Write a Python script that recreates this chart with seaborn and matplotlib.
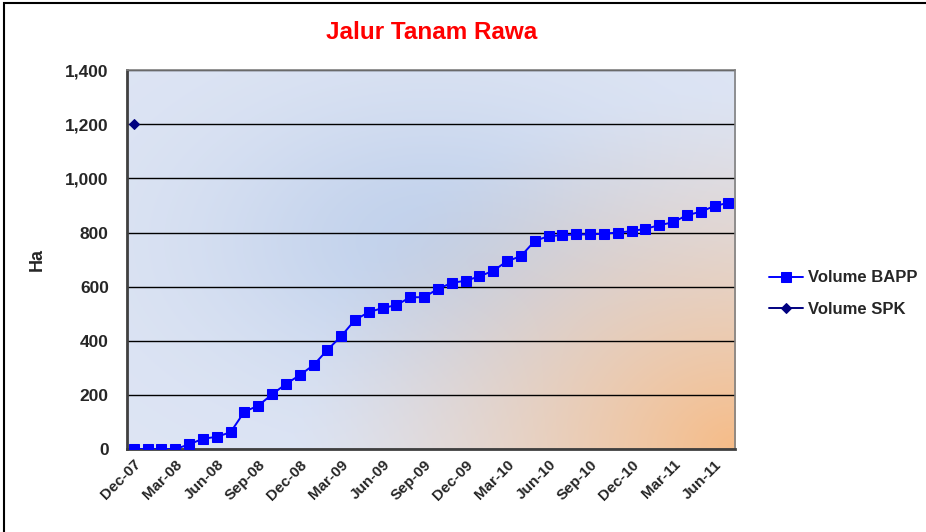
import numpy as np
import pandas as pd
import seaborn as sns
import matplotlib.pyplot as plt
from matplotlib.patches import Rectangle

months = ["Dec-07", "Jan-08", "Feb-08", "Mar-08", "Apr-08", "May-08", "Jun-08", "Jul-08",
          "Aug-08", "Sep-08", "Oct-08", "Nov-08", "Dec-08", "Jan-09", "Feb-09", "Mar-09",
          "Apr-09", "May-09", "Jun-09", "Jul-09", "Aug-09", "Sep-09", "Oct-09", "Nov-09",
          "Dec-09", "Jan-10", "Feb-10", "Mar-10", "Apr-10", "May-10", "Jun-10", "Jul-10",
          "Aug-10", "Sep-10", "Oct-10", "Nov-10", "Dec-10", "Jan-11", "Feb-11", "Mar-11",
          "Apr-11", "May-11", "Jun-11", "Jul-11"]
bapp = [0, 0, 0, 0, 17, 38, 45, 62, 138, 160, 202, 240, 273, 310, 366, 417,
        477, 506, 521, 532, 561, 561, 592, 614, 622, 638, 659, 694, 713, 769,
        787, 790, 793, 793, 796, 800, 805, 814, 827, 838, 864, 877, 898, 910]
spk_month = ["Dec-07"]
spk = [1200]

df = pd.DataFrame({"month": months, "idx": range(len(months)), "bapp": bapp})
df_spk = pd.DataFrame({"idx": [months.index(m) for m in spk_month], "spk": spk})

sns.set_style("white")
plt.rcParams["font.family"] = ["Liberation Sans", "DejaVu Sans"]

fig = plt.figure(figsize=(9.26, 5.32), dpi=100)
ax = fig.add_axes([0.137, 0.156, 0.657, 0.712])

# gradient background of the plot area
gx, gy = np.meshgrid(np.linspace(0, 1, 300), np.linspace(0, 1, 200))
light = np.array([222, 229, 244]) / 255
blue = np.array([194, 210, 236]) / 255
orange = np.array([246, 188, 136]) / 255
g = np.exp(-((gx - 0.5) ** 2 + (gy - 0.45) ** 2) / 0.14)
img = light + (blue - light) * g[..., None]
d = np.sqrt(((gx - 1.0) * 1.3) ** 2 + (gy - 1.0) ** 2)
w = np.clip(1 - d / 0.95, 0, 1) ** 1.3
img = img + (orange - img) * w[..., None]
ax.imshow(img, extent=[0, 1, 0, 1], transform=ax.transAxes, aspect="auto", zorder=0)

sns.lineplot(data=df, x="idx", y="bapp", ax=ax, color="#0000ff", marker="s", markersize=6.5,
             markeredgecolor="#0000ff", linewidth=1.4, label="Volume BAPP", zorder=3)
sns.lineplot(data=df_spk, x="idx", y="spk", ax=ax, color="#000080", marker="D", markersize=5.5,
             markeredgecolor="#000080", linewidth=1.4, label="Volume SPK", zorder=3)

ax.set_xlim(-0.5, len(months) - 0.5)
ax.set_ylim(0, 1400)
ax.set_yticks(range(0, 1401, 200))
ax.set_yticklabels([f"{v:,}" for v in range(0, 1401, 200)], fontsize=12.5, fontweight="bold")
ax.set_xticks(range(0, len(months), 3))
ax.set_xticklabels(months[::3], rotation=45, ha="right", rotation_mode="anchor",
                   fontsize=11, fontweight="bold")
ax.tick_params(axis="y", length=5, direction="out", color="#555555", pad=8)
ax.tick_params(axis="x", length=0, pad=6)
ax.grid(axis="y", color="black", linewidth=1, zorder=1)
ax.set_axisbelow(True)
for s in ax.spines.values():
    s.set_color("#808080")
    s.set_linewidth(1.2)
ax.spines["left"].set_color("#404040")
ax.spines["bottom"].set_color("#404040")
ax.spines["left"].set_linewidth(2)
ax.spines["bottom"].set_linewidth(2)

ax.set_xlabel("")
ax.set_ylabel("Ha", fontsize=13, fontweight="bold", labelpad=14)
fig.text(0.466, 0.938, "Jalur Tanam Rawa", color="red", fontsize=17.5, fontweight="bold",
         ha="center", va="center")

ax.legend(loc="center left", bbox_to_anchor=(1.045, 0.41), frameon=False, borderaxespad=0,
          prop={"weight": "bold", "size": 12}, handlelength=2.0, labelspacing=1.0,
          handletextpad=0.3)

fig.patches.append(Rectangle((0.004, -0.1), 1.1, 1.094, transform=fig.transFigure,
                             fill=False, edgecolor="black", linewidth=1.5))

fig.savefig("out.png", dpi=100)
